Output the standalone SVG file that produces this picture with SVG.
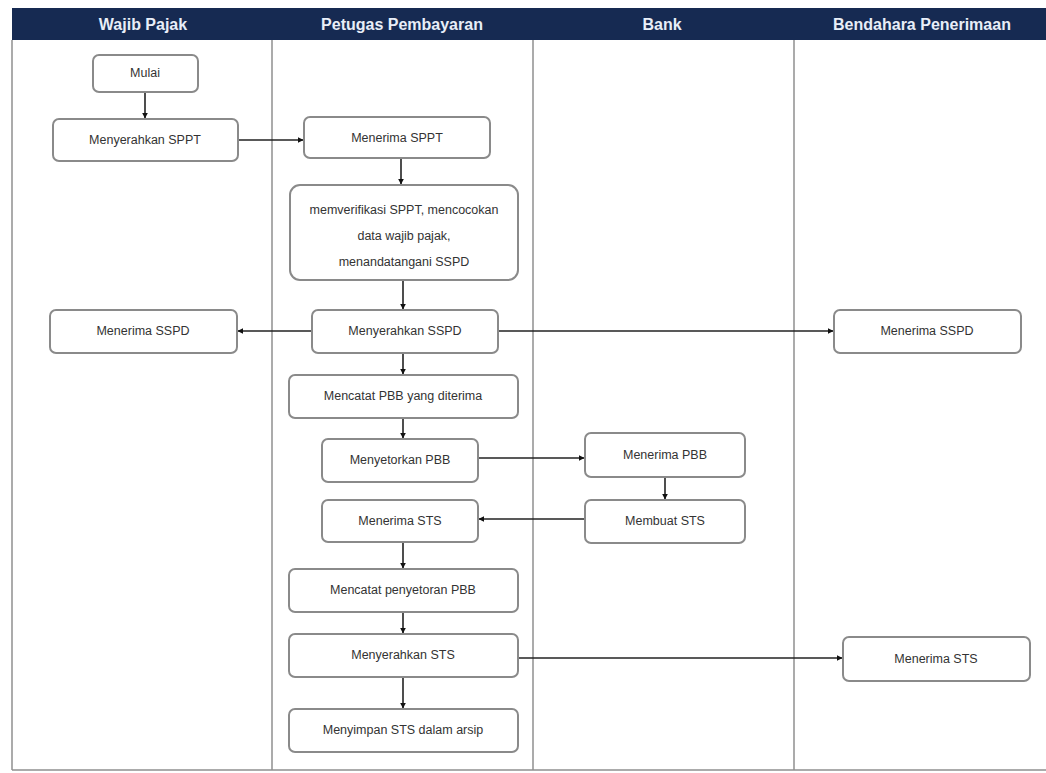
<svg xmlns="http://www.w3.org/2000/svg" width="1046" height="773" viewBox="0 0 1046 773">
<defs>
<style>
.box{fill:#fff;stroke:#8a8a8a;stroke-width:2}
.t{font-family:"Liberation Sans",Arial,sans-serif;font-size:12.5px;fill:#333;text-anchor:middle;dominant-baseline:central}
.h{font-family:"Liberation Sans",Arial,sans-serif;font-size:16px;font-weight:bold;fill:#e8eef8;text-anchor:middle;dominant-baseline:central}
.lane{stroke:#8f8f8f;stroke-width:1.5;fill:none}
.c{stroke:#222;stroke-width:1.6;fill:none;marker-end:url(#ah)}
</style>
<marker id="ah" viewBox="0 0 10 10" refX="9" refY="5" markerWidth="6" markerHeight="6" orient="auto" markerUnits="userSpaceOnUse">
<path d="M0,0 L10,5 L0,10 z" fill="#111"/>
</marker>
</defs>
<rect width="1046" height="773" fill="#fff"/>
<g id="frame">
<rect x="12" y="8" width="1034" height="32" fill="#162a52"/>
<line class="lane" x1="12" y1="40" x2="12" y2="770"/>
<line class="lane" x1="272" y1="40" x2="272" y2="770"/>
<line class="lane" x1="533" y1="40" x2="533" y2="770"/>
<line class="lane" x1="794" y1="40" x2="794" y2="770"/>
<line class="lane" x1="12" y1="770" x2="1046" y2="770"/>
<text class="h" x="143" y="24">Wajib Pajak</text>
<text class="h" x="402" y="24">Petugas Pembayaran</text>
<text class="h" x="662" y="24">Bank</text>
<text class="h" x="922" y="24">Bendahara Penerimaan</text>
</g>
<g id="connectors">
<line class="c" x1="145" y1="92" x2="145" y2="118"/>
<line class="c" x1="238" y1="140" x2="303" y2="140"/>
<line class="c" x1="401" y1="158" x2="401" y2="184"/>
<line class="c" x1="403" y1="280" x2="403" y2="309"/>
<line class="c" x1="312" y1="331" x2="238" y2="331"/>
<line class="c" x1="498" y1="331" x2="833" y2="331"/>
<line class="c" x1="403" y1="353" x2="403" y2="374"/>
<line class="c" x1="403" y1="418" x2="403" y2="438"/>
<line class="c" x1="478" y1="458" x2="584" y2="458"/>
<line class="c" x1="665" y1="477" x2="665" y2="499"/>
<line class="c" x1="585" y1="519" x2="479" y2="519"/>
<line class="c" x1="403" y1="542" x2="403" y2="568"/>
<line class="c" x1="403" y1="612" x2="403" y2="633"/>
<line class="c" x1="518" y1="658" x2="842" y2="658"/>
<line class="c" x1="403" y1="677" x2="403" y2="708"/>
</g>
<g id="n1"><rect class="box" x="93" y="55" width="105" height="37" rx="6"/><text class="t" x="145" y="73">Mulai</text></g>
<g id="n2"><rect class="box" x="53" y="119" width="185" height="42" rx="6"/><text class="t" x="145" y="140">Menyerahkan SPPT</text></g>
<g id="n3"><rect class="box" x="304" y="117" width="186" height="41" rx="6"/><text class="t" x="397" y="138">Menerima SPPT</text></g>
<g id="n4"><rect class="box" x="290" y="185" width="228" height="95" rx="10"/><text class="t" x="404" y="210">memverifikasi SPPT, mencocokan</text><text class="t" x="404" y="236">data wajib pajak,</text><text class="t" x="404" y="262">menandatangani SSPD</text></g>
<g id="n5"><rect class="box" x="50" y="310" width="187" height="43" rx="6"/><text class="t" x="143" y="331">Menerima SSPD</text></g>
<g id="n6"><rect class="box" x="312" y="310" width="186" height="43" rx="6"/><text class="t" x="405" y="331">Menyerahkan SSPD</text></g>
<g id="n7"><rect class="box" x="834" y="310" width="187" height="43" rx="6"/><text class="t" x="927" y="331">Menerima SSPD</text></g>
<g id="n8"><rect class="box" x="289" y="375" width="229" height="43" rx="6"/><text class="t" x="403" y="396">Mencatat PBB yang diterima</text></g>
<g id="n9"><rect class="box" x="322" y="439" width="156" height="43" rx="6"/><text class="t" x="400" y="460">Menyetorkan PBB</text></g>
<g id="n10"><rect class="box" x="585" y="433" width="160" height="44" rx="6"/><text class="t" x="665" y="455">Menerima PBB</text></g>
<g id="n11"><rect class="box" x="585" y="500" width="160" height="43" rx="6"/><text class="t" x="665" y="521">Membuat STS</text></g>
<g id="n12"><rect class="box" x="322" y="500" width="156" height="42" rx="6"/><text class="t" x="400" y="521">Menerima STS</text></g>
<g id="n13"><rect class="box" x="289" y="569" width="229" height="43" rx="6"/><text class="t" x="403" y="590">Mencatat penyetoran PBB</text></g>
<g id="n14"><rect class="box" x="289" y="634" width="229" height="43" rx="6"/><text class="t" x="403" y="655">Menyerahkan STS</text></g>
<g id="n15"><rect class="box" x="843" y="637" width="187" height="44" rx="6"/><text class="t" x="936" y="659">Menerima STS</text></g>
<g id="n16"><rect class="box" x="289" y="709" width="229" height="43" rx="6"/><text class="t" x="403" y="730">Menyimpan STS dalam arsip</text></g>
</svg>
